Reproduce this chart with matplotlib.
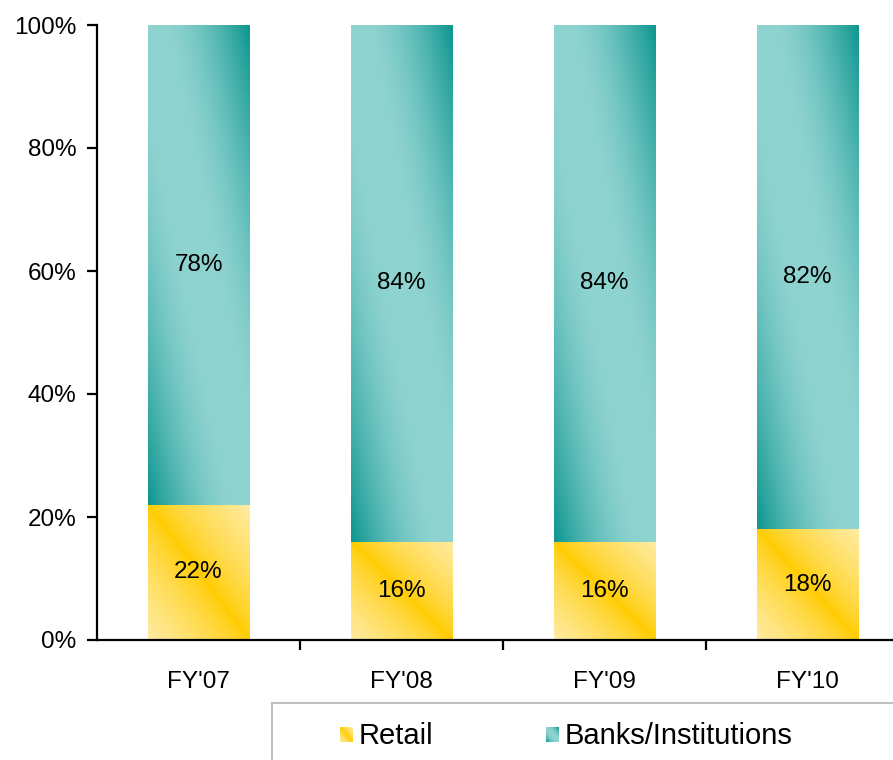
import numpy as np
import matplotlib
matplotlib.use("Agg")
import matplotlib.pyplot as plt
from matplotlib.colors import to_rgb

categories = ["FY'07", "FY'08", "FY'09", "FY'10"]
retail = [22, 16, 16, 18]
banks = [78, 84, 84, 82]
series_names = ["Retail", "Banks/Institutions"]
ytick_vals = [0, 20, 40, 60, 80, 100]

GOLD = np.array(to_rgb("#FFCC00"))
LIGHT_Y = np.array(to_rgb("#FFEBA3"))
TEAL_D = np.array(to_rgb("#0E9690"))
TEAL_L = np.array(to_rgb("#8ED3D0"))

FONT = "Liberation Sans"
FS = 17.5


def diag(nx, ny):
    u = np.linspace(0, 1, nx)[None, :]
    v = np.linspace(0, 1, ny)[:, None]
    return np.clip(np.abs(u + v - 1), 0, 1)


def retail_grad(nx=60, ny=60):
    d = diag(nx, ny) ** 0.75
    return GOLD * (1 - d[..., None]) + LIGHT_Y * d[..., None]


def teal_grad(nx=60, ny=200):
    d = np.clip((diag(nx, ny) - 0.15) / 0.85, 0, 1) ** 1.6
    return TEAL_L * (1 - d[..., None]) + TEAL_D * d[..., None]


W, H = 893, 760
fig = plt.figure(figsize=(W / 100, H / 100), dpi=100)
fig.patch.set_facecolor("white")

x0 = 97
unit = 203.0
ax = fig.add_axes([x0 / W, (H - 640) / H, (W - x0) / W, 615 / H])
xlim = (-0.5, -0.5 + (W - x0) / unit)

x = np.arange(len(categories))
b1 = ax.bar(x, retail, width=0.5, color="none", edgecolor="none")
b2 = ax.bar(x, banks, width=0.5, bottom=retail, color="none", edgecolor="none")

for bars, gfun in ((b1, retail_grad), (b2, teal_grad)):
    for p in bars:
        bx, by, bw, bh = p.get_x(), p.get_y(), p.get_width(), p.get_height()
        im = ax.imshow(gfun(), extent=[bx, bx + bw, by, by + bh], origin="lower",
                       aspect="auto", interpolation="bilinear", zorder=2)
        im.set_clip_path(p)

for i in range(len(categories)):
    ax.text(x[i], retail[i] / 2, f"{retail[i]}%", ha="center", va="center",
            fontsize=FS, family=FONT, zorder=3)
    ax.text(x[i], retail[i] + banks[i] / 2, f"{banks[i]}%", ha="center", va="center",
            fontsize=FS, family=FONT, zorder=3)

ax.set_xlim(*xlim)
ax.set_ylim(0, 100)
ax.set_facecolor("none")
for s in ("top", "right"):
    ax.spines[s].set_visible(False)
for s in ("left", "bottom"):
    ax.spines[s].set_linewidth(1.6)
    ax.spines[s].set_color("black")

ax.set_yticks(ytick_vals)
ax.set_yticklabels([f"{v}%" for v in ytick_vals], fontsize=FS, family=FONT)
ax.set_xticks(x)
ax.set_xticklabels(categories, fontsize=FS, family=FONT)
ax.set_xticks(x[:-1] + 0.5, minor=True)
ax.tick_params(axis="x", which="major", length=0, pad=22)
ax.tick_params(axis="x", which="minor", length=7, width=1.6, direction="out")
ax.tick_params(axis="y", which="major", length=7, width=1.6, direction="out", pad=8)

# Legend box (manual, with gradient swatches)
lx0, ly_top = 272, 703
lax = fig.add_axes([lx0 / W, -0.1, (W - lx0 + 20) / W, (H - ly_top) / H + 0.1])
lax.set_xticks([])
lax.set_yticks([])
for s in lax.spines.values():
    s.set_color("#BFBFBF")
    s.set_linewidth(1.5)
lax.set_facecolor("white")

swatches = [(340, retail_grad(20, 20), series_names[0]),
            (546, teal_grad(20, 20), series_names[1])]
for sx, img, name in swatches:
    lax.imshow(img, extent=[sx, sx + 13, 742, 727], origin="lower",
               aspect="auto", interpolation="bilinear")
    lax.text(sx + 19, 736, name, ha="left", va="center", fontsize=21, family=FONT)
lax.set_xlim(lx0, lx0 + (W - lx0 + 20))
lax.set_ylim(H + 0.1 * H, ly_top)

fig.savefig("out.png", dpi=100)
